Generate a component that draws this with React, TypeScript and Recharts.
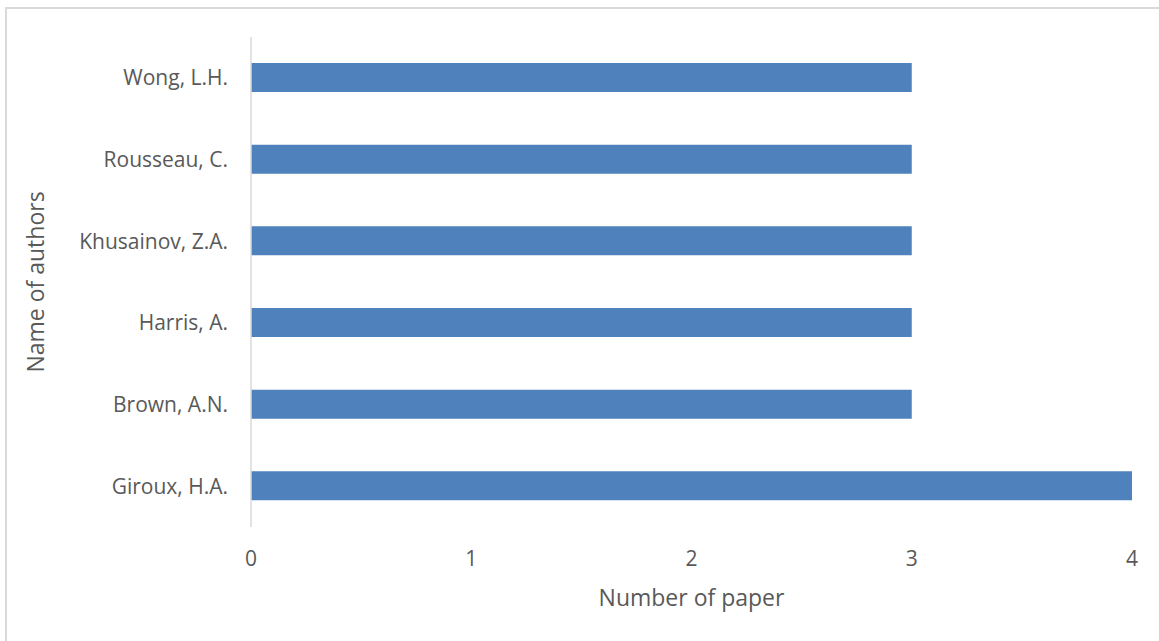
import React from "react";
import { BarChart, Bar, XAxis, YAxis, Label } from "recharts";

// top to bottom as drawn
const authors = [
  "Wong, L.H.",
  "Rousseau, C.",
  "Khusainov, Z.A.",
  "Harris, A.",
  "Brown, A.N.",
  "Giroux, H.A.",
];
const papers = [3, 3, 3, 3, 3, 4];
const xTicks = [0, 1, 2, 3, 4];

const data = authors.map((name, i) => ({ name, value: papers[i] }));

const FONT = "'Open Sans', sans-serif";
const TEXT = "#595959";

const App = () => {
  return (
    <div
      style={{
        position: "absolute",
        top: 0,
        left: 0,
        width: 1159,
        height: 641,
        background: "#fff",
        fontFamily: FONT,
      }}
    >
      {/* chart frame, only top and left edges show */}
      <div
        style={{
          position: "absolute",
          left: 5,
          top: 7,
          width: 1154,
          height: 634,
          borderTop: "2px solid #d9d9d9",
          borderLeft: "2px solid #d9d9d9",
          boxSizing: "border-box",
        }}
      />
      <BarChart
        width={1159}
        height={641}
        data={data}
        layout="vertical"
        margin={{ top: 37, right: 27, bottom: 0, left: 20 }}
        style={{ position: "absolute", top: 0, left: 0 }}
      >
        <XAxis
          type="number"
          domain={[0, 4]}
          ticks={xTicks}
          axisLine={false}
          tickLine={false}
          tickMargin={18}
          height={114}
          tick={{ fill: TEXT, fontSize: 21, fontFamily: FONT }}
        >
          <Label
            value="Number of paper"
            position="insideBottom"
            offset={35}
            fill={TEXT}
            fontSize={23}
            fontFamily={FONT}
          />
        </XAxis>
        <YAxis
          type="category"
          dataKey="name"
          width={231}
          axisLine={{ stroke: "#d9d9d9", strokeWidth: 1.5 }}
          tickLine={false}
          tickMargin={17}
          tick={{ fill: TEXT, fontSize: 21, fontFamily: FONT }}
        >
          <Label
            content={({ viewBox }: any) => {
              const cx = 35;
              const cy = viewBox.y + viewBox.height / 2;
              return (
                <text
                  x={cx}
                  y={cy}
                  fill={TEXT}
                  fontSize={23}
                  fontFamily={FONT}
                  textAnchor="middle"
                  dominantBaseline="central"
                  transform={`rotate(-90 ${cx} ${cy})`}
                >
                  Name of authors
                </text>
              );
            }}
          />
        </YAxis>
        <Bar
          dataKey="value"
          fill="#4f81bd"
          barSize={29}
          isAnimationActive={false}
        />
      </BarChart>
    </div>
  );
};

export default App;
